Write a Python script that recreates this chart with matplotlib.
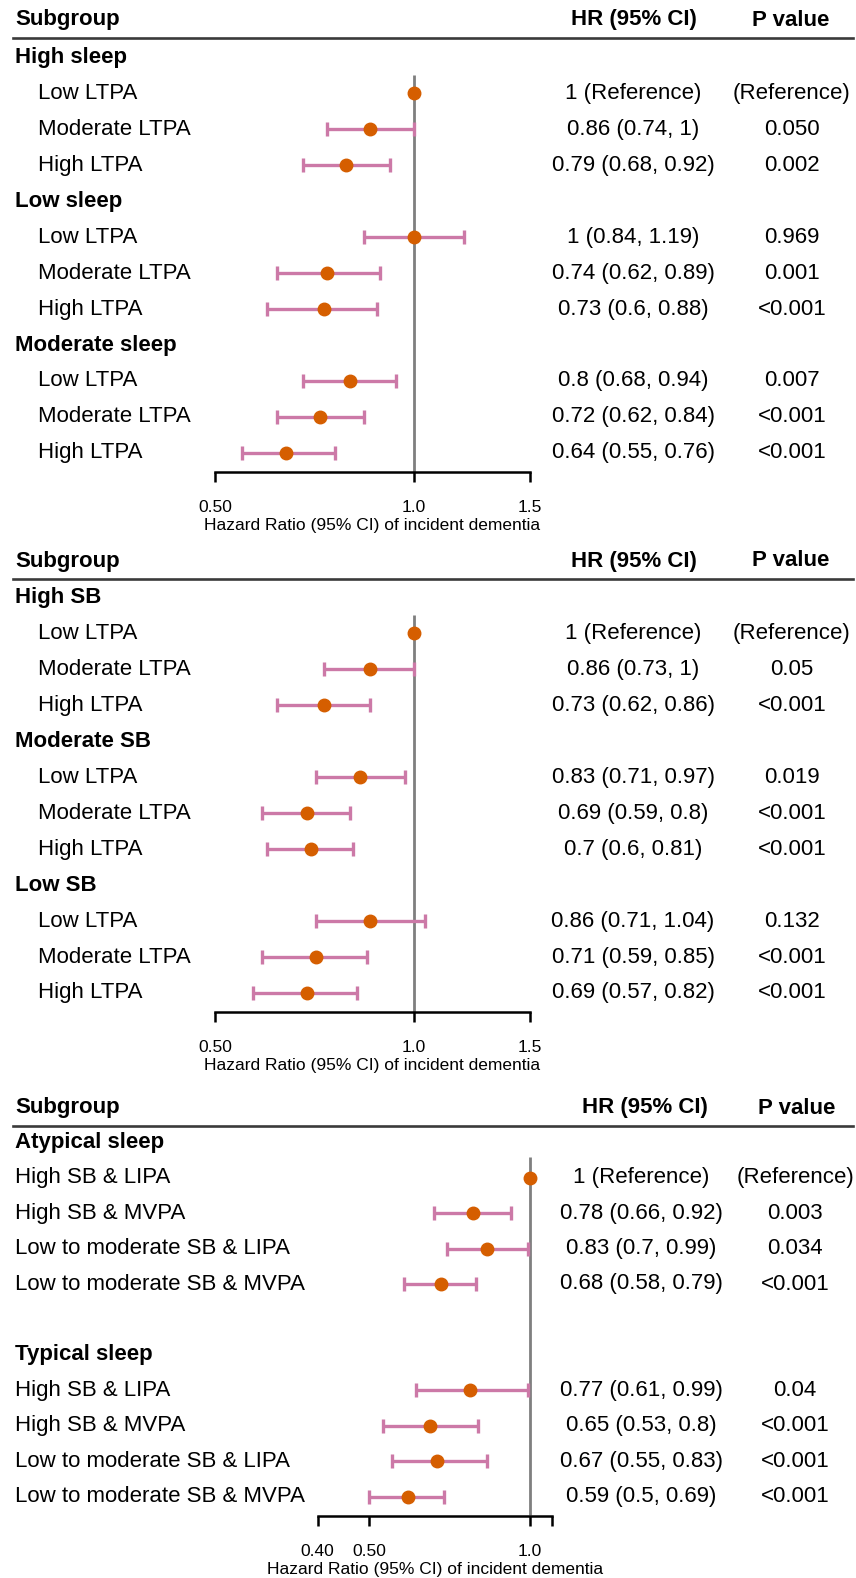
import matplotlib
matplotlib.use("Agg")
import matplotlib.pyplot as plt
import matplotlib.transforms as mtransforms
from matplotlib.ticker import NullLocator

plt.rcParams['font.family'] = ['Liberation Sans', 'DejaVu Sans']

W, H = 856, 1578
DOT = "#D55E00"
BAR = "#CC79A7"

# ---- panel 1: sleep x LTPA
sleep_groups = ["High sleep", "Low sleep", "Moderate sleep"]
ltpa_items = ["Low LTPA", "Moderate LTPA", "High LTPA"]
sleep_hr = [1, 0.86, 0.79, 1, 0.74, 0.73, 0.8, 0.72, 0.64]
sleep_lo = [None, 0.74, 0.68, 0.84, 0.62, 0.6, 0.68, 0.62, 0.55]
sleep_hi = [None, 1, 0.92, 1.19, 0.89, 0.88, 0.94, 0.84, 0.76]
sleep_p = ["(Reference)", "0.050", "0.002", "0.969", "0.001", "<0.001",
           "0.007", "<0.001", "<0.001"]

# ---- panel 2: SB x LTPA
sb_groups = ["High SB", "Moderate SB", "Low SB"]
sb_hr = [1, 0.86, 0.73, 0.83, 0.69, 0.7, 0.86, 0.71, 0.69]
sb_lo = [None, 0.73, 0.62, 0.71, 0.59, 0.6, 0.71, 0.59, 0.57]
sb_hi = [None, 1, 0.86, 0.97, 0.8, 0.81, 1.04, 0.85, 0.82]
sb_p = ["(Reference)", "0.05", "<0.001", "0.019", "<0.001", "<0.001",
        "0.132", "<0.001", "<0.001"]

# ---- panel 3: sleep type x SB & PA
type_groups = ["Atypical sleep", "Typical sleep"]
combo_items = ["High SB & LIPA", "High SB & MVPA",
               "Low to moderate SB & LIPA", "Low to moderate SB & MVPA"]
type_hr = [1, 0.78, 0.83, 0.68, 0.77, 0.65, 0.67, 0.59]
type_lo = [None, 0.66, 0.7, 0.58, 0.61, 0.53, 0.55, 0.5]
type_hi = [None, 0.92, 0.99, 0.79, 0.99, 0.8, 0.83, 0.69]
type_p = ["(Reference)", "0.003", "0.034", "<0.001", "0.04", "<0.001",
          "<0.001", "<0.001"]

XLAB = "Hazard Ratio (95% CI) of incident dementia"

fig = plt.figure(figsize=(W / 100, H / 100), dpi=100)


def hr_text(hr, lo, hi):
    if lo is None:
        return "1 (Reference)"
    return "{:g} ({:g}, {:g})".format(hr, lo, hi)


def panel(groups, items, hr, lo, hi, pv, cfg):
    # row layout: group header, then items; optional blank row between groups
    rows = []
    r = 0
    k = 0
    for gi, g in enumerate(groups):
        if gi > 0 and cfg["gap"]:
            r += 1
        rows.append(("g", g, r, None))
        r += 1
        for it in items:
            rows.append(("i", it, r, k))
            r += 1
            k += 1

    y0, sp = cfg["y0"], cfg["sp"]
    top_px = cfg["head"] - 25
    bot_row = (cfg["axis"] - y0) / sp
    top_row = (top_px - y0) / sp
    x0, x1 = cfg["xpx"]
    ax = fig.add_axes([x0 / W, 1 - cfg["axis"] / H, (x1 - x0) / W,
                       (cfg["axis"] - top_px) / H])
    ax.set_xscale("log")
    ax.set_xlim(*cfg["xlim"])
    ax.set_ylim(bot_row, top_row)
    ax.xaxis.set_minor_locator(NullLocator())
    ax.set_xticks(cfg["ticks"])
    ax.set_xticklabels(cfg["ticklabels"])
    ax.set_yticks([])
    for s in ["left", "right", "top"]:
        ax.spines[s].set_visible(False)
    ax.spines["bottom"].set_linewidth(1.8)
    ax.tick_params(axis="x", length=7, width=1.8, labelsize=12.5, pad=13.5)
    ax.set_xlabel(XLAB, fontsize=12.5, labelpad=2)
    ax.patch.set_visible(False)

    tr = mtransforms.blended_transform_factory(fig.transFigure, ax.transData)

    # header
    hrow = (cfg["head"] - y0) / sp
    ax.text(15 / W, hrow, "Subgroup", transform=tr, fontsize=16,
            fontweight="bold", va="center", ha="left")
    ax.text(cfg["hr_head"] / W, hrow, "HR (95% CI)", transform=tr,
            fontsize=16, fontweight="bold", va="center", ha="center")
    ax.text(cfg["p_head"] / W, hrow, "P value", transform=tr, fontsize=16,
            fontweight="bold", va="center", ha="center")
    lrow = (cfg["line"] - y0) / sp
    ax.plot([13 / W, 853 / W], [lrow, lrow], transform=tr, clip_on=False,
            color="#3a3a3a", lw=1.9)

    # reference line
    ax.vlines(1, cfg["ref_top"], bot_row, color="#7f7f7f", lw=2, zorder=1)

    for kind, lab, row, idx in rows:
        if kind == "g":
            ax.text(15 / W, row, lab, transform=tr, fontsize=16,
                    fontweight="bold", va="center", ha="left")
            continue
        ax.text(cfg["item_x"] / W, row, lab, transform=tr, fontsize=16,
                va="center", ha="left")
        h, l, u = hr[idx], lo[idx], hi[idx]
        if l is not None:
            ax.errorbar([h], [row], xerr=[[h - l], [u - h]], fmt="none",
                        ecolor=BAR, elinewidth=2.4, capsize=4.8,
                        capthick=2.4, zorder=2)
        ax.plot([h], [row], "o", color=DOT, ms=9, mec=DOT, zorder=3,
                clip_on=False)
        ax.text(cfg["hr_x"] / W, row, hr_text(h, l, u), transform=tr,
                fontsize=16, va="center", ha="center")
        ax.text(cfg["p_x"] / W, row, pv[idx], transform=tr, fontsize=16,
                va="center", ha="center")
    return ax


cfg1 = dict(y0=57.4, sp=35.95, axis=471.7, head=20, line=37.5, ref_top=0.5,
            xpx=(215, 530), xlim=(0.5, 1.5), ticks=[0.5, 1.0, 1.5],
            ticklabels=["0.50", "1.0", "1.5"], item_x=38, hr_x=633, p_x=792,
            hr_head=634, p_head=791, gap=False)
cfg2 = dict(cfg1, y0=597.5, sp=35.95, axis=1011.7, head=561, line=579)
cfg3 = dict(y0=1142.2, sp=35.45, axis=1515.5, head=1108, line=1126,
            ref_top=0.42, xpx=(317.7, 552.3), xlim=(0.4, 1.1),
            ticks=[0.4, 0.5, 1.0, 1.1], ticklabels=["0.40", "0.50", "1.0", ""],
            item_x=15, hr_x=641, p_x=795, hr_head=645, p_head=797, gap=True)

panel(sleep_groups, ltpa_items, sleep_hr, sleep_lo, sleep_hi, sleep_p, cfg1)
panel(sb_groups, ltpa_items, sb_hr, sb_lo, sb_hi, sb_p, cfg2)
panel(type_groups, combo_items, type_hr, type_lo, type_hi, type_p, cfg3)

fig.savefig("out.png", dpi=100)
